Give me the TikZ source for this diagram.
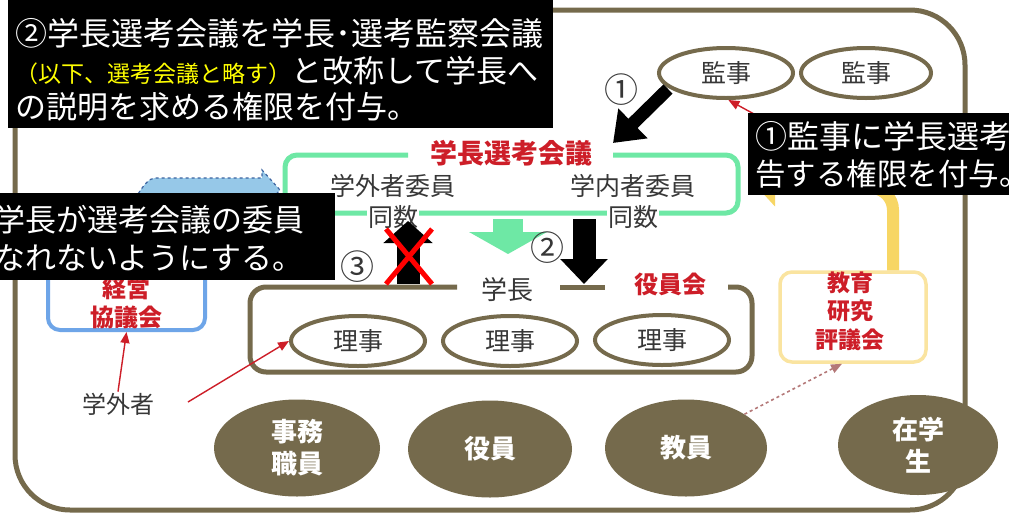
\documentclass[tikz,border=0pt]{standalone}
\usepackage{fontspec}
\setmainfont{Noto Sans CJK JP}
\usetikzlibrary{arrows.meta,shapes.geometric}
\definecolor{brn}{RGB}{117,106,76}
\definecolor{txt}{RGB}{55,55,55}
\definecolor{rtxt}{RGB}{205,30,40}
\definecolor{mint}{RGB}{110,232,165}
\definecolor{bbl}{RGB}{110,165,232}
\definecolor{lblue}{RGB}{150,200,232}
\definecolor{dblue}{RGB}{60,100,160}
\definecolor{ylwbox}{RGB}{250,228,160}
\definecolor{ylw}{RGB}{247,214,100}
\definecolor{rarrc}{RGB}{205,30,40}
\definecolor{darr}{RGB}{180,120,120}
\definecolor{ylwtxt}{RGB}{255,255,0}
\newcommand\fsz[2]{\fontsize{#1}{#2}\selectfont}
\begin{document}
\begin{tikzpicture}[x=1pt,y=-1pt,
  frame/.style={draw=brn, line width=5pt},
  oval/.style={ellipse, draw=brn, line width=4pt, minimum width=134pt, minimum height=50pt, inner sep=0pt, font=\fsz{25}{29}, text=txt},
  filloval/.style={ellipse, fill=brn, minimum width=166pt, minimum height=97pt, inner sep=0pt, text=white, font=\bfseries\fsz{26}{32}, align=center},
  redlbl/.style={text=rtxt, font=\bfseries\fsz{24}{28}, inner sep=1pt},
  gtxt/.style={text=txt, font=\fsz{25}{29}, inner sep=1pt},
  wt/.style={text=white, font=\fsz{31}{36}, inner sep=0pt, anchor=west},
  num/.style={text=txt, font=\fsz{34}{36}, inner sep=0pt},
  blkarrow/.style={draw=black, line width=#1},
  rarr/.style={draw=rarrc, line width=1.4pt, -{Triangle[length=11pt,width=9pt]}},
]
\useasboundingbox (0,0) rectangle (1009,517);
\clip (0,0) rectangle (1009,517);
\fill[white] (0,0) rectangle (1009,517);

% outer frame
\draw[frame, rounded corners=55] (15,10) rectangle (965,510);

% auditors
\node[oval] (k1) at (726,73) {監事};
\node[oval, minimum width=130pt] (k2) at (866,73) {監事};

% blue dashed block arrow (mostly hidden)
\draw[fill=lblue, draw=dblue, dashed, line width=1.2pt] (132,240) -- (132,198) to[out=-90,in=180] (155,178) -- (262,178) -- (262,170) -- (280,190) -- (262,210) -- (262,202) -- (160,202) -- (160,240) -- cycle;

% blue box
\node[draw=bbl, line width=4pt, rounded corners=12, minimum width=157pt, minimum height=130pt] (kb) at (126.5,265) {};
\node[redlbl] (keiei) at (126,288) {経営};
\node[redlbl] (kyogi) at (126,317) {協議会};

% selection council box
\draw[draw=mint, line width=5pt, rounded corners=12] (408,155) -- (285,155) -- (285,213) -- (738,213) -- (738,155) -- (613,155);
\node[redlbl, font=\bfseries\fsz{27}{30}] (selt) at (511,153) {学長選考会議};
\node[gtxt] (sg1) at (393,186) {学外者委員};
\node[gtxt, fill=white] (sg2) at (393,217) {同数};
\node[gtxt] (sn1) at (633,186) {学内者委員};
\node[gtxt, fill=white] (sn2) at (633,217) {同数};

% yellow box and arrow
\node[draw=ylwbox, line width=3.5pt, rounded corners=12, minimum width=146pt, minimum height=90pt] (yb) at (853,317) {};
\node[redlbl, font=\bfseries\fsz{23}{27}] (ky1) at (850,283) {教育};
\node[redlbl, font=\bfseries\fsz{23}{27}] (ky2) at (850,311) {研究};
\node[redlbl, font=\bfseries\fsz{23}{27}] (ky3) at (850,340) {評議会};
\draw[draw=ylw, line width=12pt, rounded corners=22, -{Triangle[length=17pt,width=36pt]}] (yb.north -| 893,0) -- (893,188) -- (758,188);

% president / board box
\draw[frame, rounded corners=16] (457,287) -- (250,287) -- (250,372) -- (752,372) -- (752,287) -- (728,287);
\draw[frame] (560,287) -- (605,287);
\node[gtxt, font=\fsz{26}{30}] (gakucho) at (507,290) {学長};
\node[redlbl] (yakuin) at (670,284) {役員会};
\node[oval] (r1) at (358,341) {理事};
\node[oval] (r2) at (510,341) {理事};
\node[oval] (r3) at (662,340) {理事};

% green arrow
\coordinate (gas) at (508,219);
\coordinate (gae) at (508,254);
\draw[draw=mint, line width=30pt, -{Triangle[length=22pt,width=77pt]}] (gas) -- (gae);

% arrow 2
\coordinate (a2s) at (584,219);
\coordinate (a2e) at (584,284);
\draw[blkarrow=23pt, -{Triangle[length=25pt,width=46pt]}] (a2s) -- (a2e);
\node[num] (n2) at (547,248) {②};

% arrow 3 with cross
\coordinate (a3s) at (408,284);
\coordinate (a3e) at (408,221);
\draw[blkarrow=23pt, -{Triangle[length=22pt,width=48pt]}] (a3s) -- (a3e);
\draw[draw=red, line width=5pt] (386,229) -- (432,284) (432,229) -- (386,284);
\node[num] (n3) at (357,267) {③};

% arrow 1
\coordinate (a1s) at (668,89);
\coordinate (a1e) at (613,143);
\draw[blkarrow=13pt, -{Triangle[length=28pt,width=40pt]}] (a1s) -- (a1e);
\node[num] (n1) at (621,90) {①};

% outsider
\node[gtxt, font=\fsz{24}{28}] (gai) at (118,404) {学外者};
\coordinate (gs) at (188,402);
\draw[rarr] (gai.north) -- (kb.south);
\draw[rarr] (gs) -- (r1.west);

% bottom groups
\node[filloval] (jimu) at (297,448) {事務\\職員};
\node[filloval, minimum width=164pt] (yaku) at (490,449) {役員};
\node[filloval, minimum width=162pt] (kyo) at (686,448) {教員};
\node[filloval, minimum width=160pt, minimum height=100pt] (zai) at (918,445) {在学\\生};
\draw[draw=darr, line width=1.6pt, dashed, -{Triangle[length=11pt,width=9pt]}] (kyo.30) -- ([xshift=-11pt]yb.south);

% red pointer to auditor
\coordinate (ps) at (765,120);
\draw[rarr] (ps) -- (k1.-85);

% black callout boxes
\fill[black] (8,-2) rectangle (553,128);
\node[wt, font=\fsz{32}{36}] (t1) at (15,33) {②学長選考会議を学長･選考監察会議};
\node[wt] (t2) at (15,71) {\textcolor{ylwtxt}{\fsz{23}{26}\selectfont （以下、選考会議と略す）}と改称して学長へ};
\node[wt] (t3) at (15,107) {の説明を求める権限を付与。};

\fill[black] (748,113) rectangle (1012,195);
\node[wt, font=\fsz{32}{36}] (t4) at (755,136) {①監事に学長選考};
\node[wt, font=\fsz{30.5}{36}] (t5) at (755,174) {告する権限を付与。};

\fill[black] (-3,193) rectangle (335,280);
\node[wt] (t6) at (-6,220) {学長が選考会議の委員};
\node[wt] (t7) at (-6,258) {なれないようにする。};
\end{tikzpicture}
\end{document}
